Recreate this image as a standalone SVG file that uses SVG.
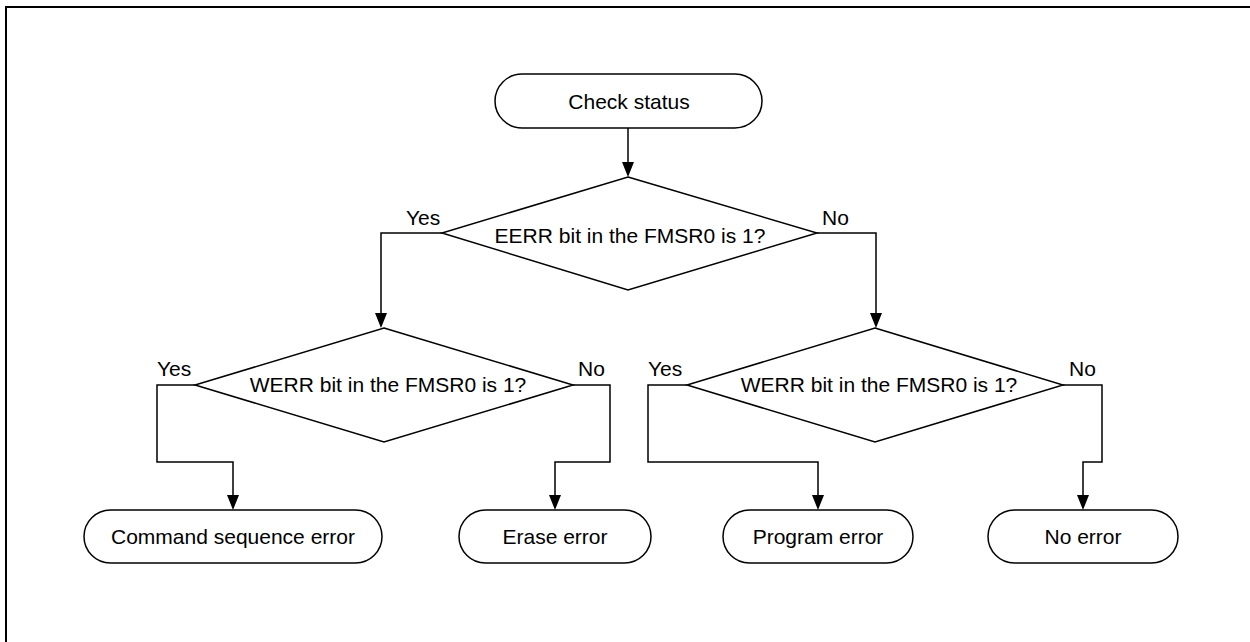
<svg xmlns="http://www.w3.org/2000/svg" width="1250" height="642" viewBox="0 0 1250 642">
<defs>
<style>
.n{fill:#fff;stroke:#000;stroke-width:1.5}
.t{font-family:"Liberation Sans",Arial,sans-serif;font-size:21px;fill:#000;text-anchor:middle;dominant-baseline:central}
.l{font-family:"Liberation Sans",Arial,sans-serif;font-size:21px;fill:#000}
.c{fill:none;stroke:#000;stroke-width:1.5}
</style>
</defs>
<rect width="1250" height="642" fill="#fff"/>
<path d="M6,642 V7 H1250" fill="none" stroke="#000" stroke-width="2"/>
<g id="connectors">
<path class="c" d="M628,128 V163"/>
<path d="M622,162 L634,162 L628,177 Z"/>
<path class="c" d="M442,233 H381 V313"/>
<path d="M375,313 L387,313 L381,328 Z"/>
<path class="c" d="M817,233 H876 V313"/>
<path d="M870,313 L882,313 L876,328 Z"/>
<path class="c" d="M195,385 H157 V462 H233 V495"/>
<path d="M227,495 L239,495 L233,510 Z"/>
<path class="c" d="M573,385 H610 V462 H555 V495"/>
<path d="M549,495 L561,495 L555,510 Z"/>
<path class="c" d="M687,385 H648 V462 H818 V495"/>
<path d="M812,495 L824,495 L818,510 Z"/>
<path class="c" d="M1063,385 H1102 V462 H1083 V495"/>
<path d="M1077,495 L1089,495 L1083,510 Z"/>
</g>
<g id="labels">
<text class="l" x="406" y="225">Yes</text>
<text class="l" x="822" y="225">No</text>
<text class="l" x="157" y="376">Yes</text>
<text class="l" x="578" y="376">No</text>
<text class="l" x="648" y="376">Yes</text>
<text class="l" x="1069" y="376">No</text>
</g>
<g id="start"><rect class="n" x="495" y="74" width="267" height="54" rx="27" ry="27"/><text class="t" x="629" y="101">Check status</text></g>
<g id="d1"><polygon class="n" points="628,177 817,233 628,290 442,233"/><text class="t" x="630" y="235">EERR bit in the FMSR0 is 1?</text></g>
<g id="d2"><polygon class="n" points="384,328 573,385 384,442 195,385"/><text class="t" x="388" y="384">WERR bit in the FMSR0 is 1?</text></g>
<g id="d3"><polygon class="n" points="875,328 1063,385 875,442 687,385"/><text class="t" x="879" y="384">WERR bit in the FMSR0 is 1?</text></g>
<g id="e1"><rect class="n" x="84" y="510" width="298" height="53" rx="26.5" ry="26.5"/><text class="t" x="233" y="536">Command sequence error</text></g>
<g id="e2"><rect class="n" x="459" y="510" width="192" height="53" rx="26.5" ry="26.5"/><text class="t" x="555" y="536">Erase error</text></g>
<g id="e3"><rect class="n" x="723" y="510" width="190" height="53" rx="26.5" ry="26.5"/><text class="t" x="818" y="536">Program error</text></g>
<g id="e4"><rect class="n" x="988" y="510" width="190" height="53" rx="26.5" ry="26.5"/><text class="t" x="1083" y="536">No error</text></g>
</svg>
